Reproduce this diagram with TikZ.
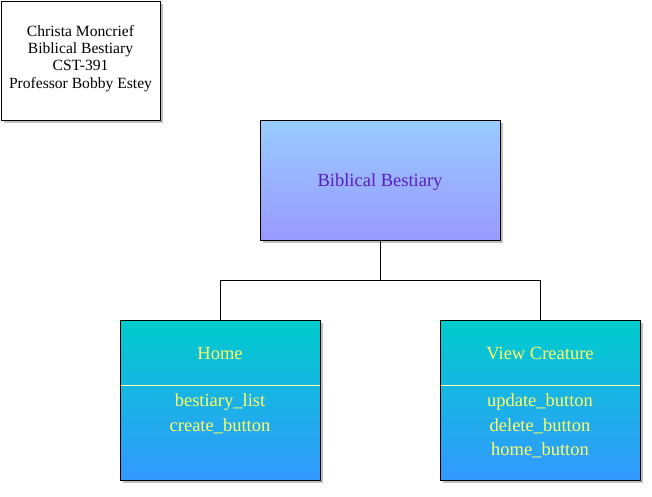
\documentclass[tikz,border=0pt]{standalone}
\usepackage{fontspec}
\setmainfont{Liberation Serif}
\usetikzlibrary{shadows}
\definecolor{topblue}{HTML}{99CCFF}
\definecolor{botblue}{HTML}{9999FF}
\definecolor{titlepurple}{HTML}{5A1DBF}
\definecolor{topcyan}{HTML}{00CCCC}
\definecolor{botcyan}{HTML}{3399FF}
\definecolor{ytext}{HTML}{FFFF66}
\definecolor{divline}{HTML}{FFFFAA}
\tikzset{
  shad/.style={drop shadow={shadow xshift=3pt, shadow yshift=-3pt, fill=black, opacity=0.25}},
  infobox/.style={draw=black, fill=white, shad, line width=0.8pt},
  rootbox/.style={draw=black, top color=topblue, bottom color=botblue, shad, line width=0.8pt},
  childbox/.style={draw=black, top color=topcyan, bottom color=botcyan, shad, line width=0.8pt},
  conn/.style={draw=black, line width=0.8pt},
  ylab/.style={text=ytext, font=\fontsize{18.5}{22}\selectfont, inner sep=0pt},
}
\begin{document}
\begin{tikzpicture}[x=1pt,y=-1pt]
\useasboundingbox (0,0) rectangle (652,496);
% info box
\path[infobox] (1,1) rectangle (160,120);
\node[align=center, font=\fontsize{15.6}{17.3}\selectfont, inner sep=0pt] (info) at (80.5,58.5) {Christa Moncrief\\Biblical Bestiary\\CST-391\\Professor Bobby Estey};
% root
\path[rootbox] (260,120) rectangle (500,240);
\node[inner sep=0pt, minimum width=240pt, minimum height=120pt] (root) at (380,180) {};
\node[text=titlepurple, font=\fontsize{18.5}{22}\selectfont, inner sep=0pt] (rootlab) at (380,182) {Biblical Bestiary};
% home
\path[childbox] (120,320) rectangle (320,480);
\node[inner sep=0pt, minimum width=200pt, minimum height=160pt] (home) at (220,400) {};
\draw[divline, line width=0.8pt] (120.5,385) -- (319.5,385);
\node[ylab] (homet) at (220,354) {Home};
\node[ylab] (homei1) at (220,402) {bestiary\_list};
\node[ylab] (homei2) at (220,426) {create\_button};
% view creature
\path[childbox] (440,320) rectangle (640,480);
\node[inner sep=0pt, minimum width=200pt, minimum height=160pt] (view) at (540,400) {};
\draw[divline, line width=0.8pt] (440.5,385) -- (639.5,385);
\node[ylab] (viewt) at (540,354) {View Creature};
\node[ylab] (viewi1) at (540,402) {update\_button};
\node[ylab] (viewi2) at (540,426) {delete\_button};
\node[ylab] (viewi3) at (540,450) {home\_button};
% connectors
\coordinate (mid) at (380,280);
\draw[conn] (root.south) -- (mid) -| (home.north);
\draw[conn] (mid) -| (view.north);
\end{tikzpicture}
\end{document}
